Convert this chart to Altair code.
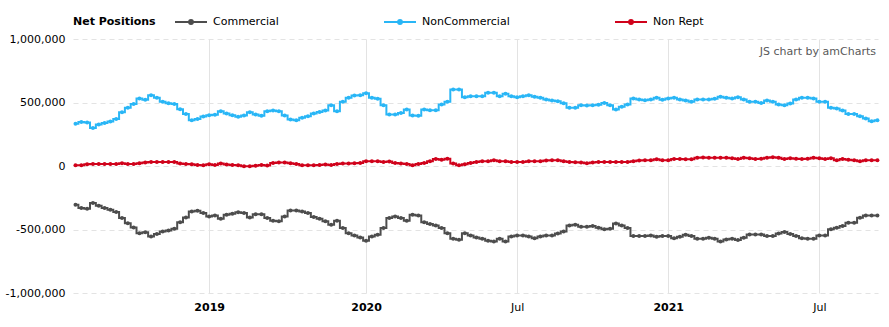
import altair as alt
import pandas as pd

# ---- data (values in thousands of contracts, one per weekly report) ----
series_names = ["Commercial", "NonCommercial", "Non Rept"]
series_colors = ["#4d4d4d", "#29b6f6", "#d0021b"]

tick_positions = [23, 50, 76, 102, 128]
tick_labels = ["2019", "2020", "Jul", "2021", "Jul"]

commercial = [
    -305, -331, -337, -292, -313, -331, -344, -363, -410, -450, -484, -529, -521, -555, -536, -515, -508, -494,
    -442, -405, -358, -352, -371, -397, -389, -415, -384, -376, -365, -371, -405, -379, -379, -410, -431,
    -436, -397, -350, -350, -358, -371, -402, -415, -436, -463, -431, -489, -529, -547, -563, -589, -555,
    -542, -489, -410, -397, -410, -431, -384, -389, -442, -457, -468, -489, -529, -573, -581, -529, -547,
    -563, -573, -589, -595, -573, -594, -555, -547, -547, -555, -568, -555, -547, -547, -531, -515, -468,
    -463, -478, -478, -473, -486, -499, -494, -452, -468, -489, -552, -552, -552, -547, -557, -552, -552,
    -568, -557, -541, -552, -573, -573, -565, -573, -594, -578, -573, -583, -565, -539, -539, -539, -552,
    -552, -531, -520, -536, -552, -568, -573, -573, -547, -547, -499, -486, -473, -447, -447, -407, -389,
    -389, -389,
]
noncommercial = [
    332, 347, 342, 300, 326, 339, 350, 371, 424, 458, 489, 531, 521, 558, 537, 505, 495, 489,
    447, 410, 360, 371, 389, 400, 403, 431, 413, 400, 387, 397, 424, 405, 395, 431, 437,
    431, 397, 366, 360, 379, 392, 413, 426, 437, 479, 431, 505, 537, 555, 558, 573, 537,
    529, 479, 405, 405, 418, 445, 397, 395, 445, 439, 439, 484, 505, 602, 602, 542, 550,
    550, 550, 576, 576, 550, 568, 550, 542, 550, 558, 545, 537, 524, 516, 510, 495, 458,
    458, 479, 476, 479, 482, 497, 479, 445, 466, 484, 531, 524, 518, 524, 537, 521, 531,
    537, 524, 516, 505, 524, 524, 524, 529, 545, 537, 531, 542, 524, 505, 505, 497, 516,
    505, 484, 479, 492, 524, 537, 537, 531, 505, 505, 458, 452, 437, 410, 410, 392, 374,
    352, 360,
]
nonrept = [
    6, 6, 14, 16, 16, 16, 16, 16, 22, 16, 16, 22, 27, 32, 32, 32, 32, 32,
    19, 16, 14, 8, 6, 14, 8, 19, 11, 8, 6, -2, -2, 1, 8, 3, 24,
    27, 27, 22, 16, 6, 6, 6, 8, 11, 8, 16, 19, 19, 22, 24, 37, 37,
    37, 32, 35, 24, 19, 16, 6, 16, 24, 37, 56, 50, 58, 19, 6, 14, 24,
    32, 37, 37, 45, 37, 37, 32, 32, 32, 37, 37, 37, 43, 45, 45, 37, 32,
    29, 27, 22, 27, 32, 32, 32, 32, 32, 32, 37, 43, 45, 45, 53, 45, 45,
    56, 56, 53, 53, 64, 66, 64, 64, 64, 64, 61, 56, 64, 61, 56, 58, 64,
    69, 64, 56, 61, 58, 56, 58, 64, 61, 56, 61, 45, 56, 50, 45, 37, 45,
    45, 45,
]

rows = []
for name, vals in zip(series_names, [commercial, noncommercial, nonrept]):
    for i, v in enumerate(vals):
        rows.append({"week": i, "series": name, "value": v * 1000})
df = pd.DataFrame(rows)

FONT = "DejaVu Sans"

label_expr = " : ".join(
    f"datum.value == {p} ? '{l}'" for p, l in zip(tick_positions, tick_labels)
) + " : ''"
bold_test = " || ".join(
    f"datum.value == {p}" for p, l in zip(tick_positions, tick_labels) if l != "Jul"
)

legend = alt.Legend(
    title="Net Positions",
    titleOrient="left",
    titleFont=FONT,
    titleFontSize=11,
    titleFontWeight="bold",
    titleColor="#000000",
    titlePadding=18,
    titleBaseline="top",
    orient="none",
    legendX=0,
    legendY=-34,
    direction="horizontal",
    symbolType="M-1,0H1M-0.12,0A0.12,0.12,0,1,0,0.12,0A0.12,0.12,0,1,0,-0.12,0",
    symbolSize=1024,
    symbolStrokeWidth=2,
    labelFont=FONT,
    labelFontSize=11,
    labelColor="#000000",
    labelOffset=5,
    columnPadding=101,
)

color = alt.Color(
    "series:N",
    scale=alt.Scale(domain=series_names, range=series_colors),
    legend=legend,
    sort=series_names,
)

x_enc = alt.X(
    "week:Q",
    scale=alt.Scale(domain=[-0.43, 138.1], nice=False, zero=False),
    axis=alt.Axis(
        values=tick_positions,
        labelExpr=label_expr,
        labelFontWeight={"condition": {"test": bold_test, "value": "bold"}, "value": "normal"},
        title=None,
        domain=False,
        ticks=False,
        grid=True,
        gridColor="#e3e3e3",
        gridWidth=1,
        labelFont=FONT,
        labelFontSize=11,
        labelColor="#000000",
        labelPadding=8,
    ),
)
y_enc = alt.Y(
    "value:Q",
    scale=alt.Scale(domain=[-1000000, 1000000], nice=False),
    axis=alt.Axis(
        values=[-1000000, -500000, 0, 500000, 1000000],
        labelExpr="datum.value < 0 ? '-' + format(-datum.value, ',') : format(datum.value, ',')",
        title=None,
        domain=False,
        ticks=False,
        grid=True,
        gridColor="#e3e3e3",
        gridDash=[5, 4],
        gridWidth=1,
        labelFont=FONT,
        labelFontSize=11,
        labelColor="#000000",
        labelPadding=8,
    ),
)

base = alt.Chart(df).encode(x=x_enc, y=y_enc, color=color, detail="series:N")

lines = base.mark_line(interpolate="step", strokeWidth=2)
points = base.mark_circle(size=16, opacity=1)

credit = alt.Chart(pd.DataFrame({"t": ["JS chart by amCharts"]})).mark_text(
    align="right", baseline="middle", font=FONT, fontSize=11, color="#595959"
).encode(text="t:N", x=alt.value(803), y=alt.value(13))

chart = (
    alt.layer(lines, points, credit)
    .properties(
        width=805,
        height=254,
        autosize=alt.AutoSizeParams(type="none"),
        padding={"left": 73, "top": 39, "right": 11, "bottom": 34},
        background="#ffffff",
    )
    .configure_view(stroke=None)
)

chart.save("out.html", embed_options={"renderer": "svg", "actions": False})
